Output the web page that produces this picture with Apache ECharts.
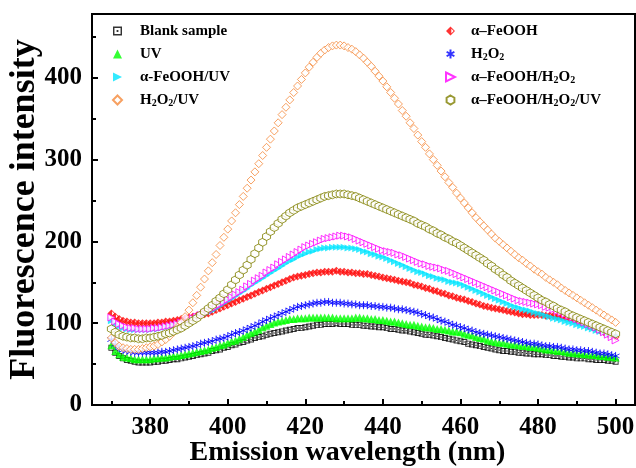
<!DOCTYPE html>
<html>
<head>
<meta charset="utf-8">
<script src="https://cdn.jsdelivr.net/npm/echarts@6/dist/echarts.min.js"></script>
<style>
  html, body { margin: 0; padding: 0; background: #fff; }
  #chart { width: 636px; height: 468px; }
</style>
</head>
<body>
<div id="chart"></div>
<script>
// emission wavelength (nm)
const wavelength = [
  370, 371, 372, 373, 374, 375, 376, 377, 378, 379,
  380, 381, 382, 383, 384, 385, 386, 387, 388, 389,
  390, 391, 392, 393, 394, 395, 396, 397, 398, 399,
  400, 401, 402, 403, 404, 405, 406, 407, 408, 409,
  410, 411, 412, 413, 414, 415, 416, 417, 418, 419,
  420, 421, 422, 423, 424, 425, 426, 427, 428, 429,
  430, 431, 432, 433, 434, 435, 436, 437, 438, 439,
  440, 441, 442, 443, 444, 445, 446, 447, 448, 449,
  450, 451, 452, 453, 454, 455, 456, 457, 458, 459,
  460, 461, 462, 463, 464, 465, 466, 467, 468, 469,
  470, 471, 472, 473, 474, 475, 476, 477, 478, 479,
  480, 481, 482, 483, 484, 485, 486, 487, 488, 489,
  490, 491, 492, 493, 494, 495, 496, 497, 498, 499,
  500
]

const blankSample = [
  70, 64, 60, 57, 55, 54, 53, 52, 52, 52,
  52, 53, 53, 54, 54, 55, 56, 56, 57, 58,
  59, 60, 61, 62, 63, 64, 66, 67, 68, 70,
  71, 73, 74, 76, 77, 79, 80, 82, 83, 84,
  86, 87, 88, 89, 90, 91, 92, 93, 94, 94,
  95, 96, 97, 98, 98, 99, 99, 99, 100, 99,
  99, 99, 98, 98, 98, 97, 97, 96, 96, 95,
  95, 94, 93, 93, 92, 91, 91, 90, 89, 88,
  87, 86, 86, 85, 84, 83, 82, 81, 80, 79,
  78, 77, 75, 74, 73, 72, 71, 70, 69, 68,
  67, 66, 66, 65, 65, 64, 64, 63, 63, 62,
  62, 62, 61, 61, 60, 60, 59, 59, 58, 58,
  57, 57, 57, 56, 56, 55, 55, 55, 54, 54,
  53
]

const feooh = [
  112, 108, 105, 103, 102, 101, 101, 100, 100, 100,
  100, 100, 101, 101, 102, 102, 103, 104, 105, 106,
  107, 108, 109, 110, 111, 112, 114, 116, 118, 120,
  122, 124, 126, 128, 130, 132, 134, 136, 138, 140,
  142, 144, 146, 148, 150, 152, 154, 156, 157, 158,
  159, 160, 161, 162, 162, 163, 163, 163, 164, 163,
  163, 162, 162, 161, 161, 160, 160, 159, 158, 157,
  156, 155, 154, 153, 152, 151, 150, 149, 147, 146,
  145, 143, 142, 140, 139, 137, 136, 134, 133, 131,
  130, 129, 127, 126, 124, 123, 121, 120, 119, 118,
  117, 116, 115, 114, 113, 112, 111, 111, 110, 110,
  110, 110, 109, 109, 109, 108, 108, 107, 106, 105,
  103, 101, 99, 97, 95, 93, 91, 89, 87, 85,
  83
]

const uv = [
  73, 66, 62, 59, 58, 57, 56, 56, 56, 56,
  56, 57, 57, 58, 58, 59, 60, 60, 61, 62,
  63, 64, 65, 66, 67, 68, 70, 71, 73, 74,
  76, 78, 79, 81, 83, 86, 88, 90, 92, 95,
  97, 99, 101, 102, 103, 104, 105, 105, 106, 106,
  106, 107, 107, 107, 107, 107, 107, 107, 106, 106,
  106, 106, 106, 107, 107, 106, 106, 105, 105, 104,
  104, 103, 102, 102, 101, 100, 99, 98, 98, 97,
  96, 95, 95, 94, 93, 93, 92, 91, 90, 90,
  89, 87, 86, 85, 83, 82, 81, 79, 78, 77,
  76, 76, 75, 74, 74, 73, 72, 72, 71, 71,
  70, 69, 68, 68, 67, 66, 66, 65, 64, 64,
  63, 63, 62, 62, 61, 61, 60, 60, 59, 59,
  58
]

const h2o2 = [
  80, 74, 70, 67, 66, 65, 64, 64, 64, 64,
  64, 64, 64, 65, 65, 66, 67, 68, 69, 70,
  71, 72, 73, 75, 76, 77, 78, 80, 81, 82,
  84, 86, 88, 89, 91, 93, 95, 97, 99, 102,
  104, 106, 108, 110, 112, 114, 116, 118, 120, 121,
  122, 123, 124, 125, 125, 126, 126, 125, 125, 125,
  124, 124, 123, 123, 122, 122, 122, 121, 121, 120,
  120, 119, 119, 118, 117, 117, 116, 115, 114, 113,
  111, 110, 108, 107, 105, 103, 102, 100, 98, 97,
  95, 94, 92, 91, 89, 88, 87, 86, 85, 84,
  83, 82, 81, 80, 79, 78, 77, 76, 75, 75,
  74, 73, 72, 72, 71, 71, 70, 69, 68, 68,
  67, 67, 66, 66, 65, 64, 63, 63, 62, 61,
  60
]

const feoohUv = [
  103, 99, 96, 94, 93, 92, 92, 92, 92, 92,
  92, 93, 93, 94, 95, 96, 97, 98, 100, 102,
  104, 105, 107, 109, 111, 113, 115, 118, 121, 124,
  127, 130, 133, 136, 139, 142, 146, 149, 152, 155,
  158, 161, 164, 167, 170, 173, 176, 178, 181, 183,
  185, 187, 188, 190, 191, 192, 192, 193, 193, 193,
  193, 192, 192, 191, 190, 188, 187, 185, 184, 182,
  181, 179, 177, 175, 173, 171, 169, 167, 165, 163,
  162, 160, 158, 157, 155, 154, 153, 151, 150, 149,
  148, 146, 144, 142, 140, 138, 136, 134, 132, 130,
  128, 126, 124, 122, 120, 119, 117, 116, 115, 113,
  112, 111, 109, 108, 106, 105, 104, 102, 101, 100,
  98, 97, 96, 94, 93, 91, 90, 89, 87, 86,
  85
]

const feoohH2o2 = [
  107, 102, 99, 97, 95, 94, 94, 93, 93, 93,
  93, 94, 94, 95, 96, 97, 98, 99, 101, 103,
  105, 106, 108, 110, 112, 114, 117, 120, 123, 126,
  129, 132, 135, 138, 141, 145, 148, 152, 155, 158,
  162, 165, 168, 172, 175, 178, 181, 184, 187, 190,
  193, 195, 197, 199, 201, 203, 204, 205, 206, 207,
  207, 206, 205, 203, 201, 199, 197, 195, 193, 191,
  189, 188, 187, 186, 184, 183, 181, 179, 177, 175,
  173, 172, 170, 169, 168, 167, 165, 164, 162, 160,
  158, 156, 154, 152, 150, 148, 146, 144, 142, 140,
  138, 136, 134, 132, 130, 128, 127, 126, 125, 124,
  123, 122, 120, 119, 117, 115, 113, 111, 109, 107,
  105, 103, 101, 99, 97, 95, 92, 89, 86, 83,
  79
]

const h2o2Uv = [
  82, 76, 72, 70, 69, 68, 68, 68, 69, 70,
  71, 72, 74, 77, 80, 84, 89, 95, 101, 108,
  116, 125, 134, 144, 154, 164, 174, 184, 195, 205,
  215, 225, 235, 245, 255, 265, 275, 285, 295, 305,
  315, 325, 335, 345, 355, 364, 373, 382, 390, 398,
  406, 413, 419, 425, 430, 434, 437, 439, 440, 440,
  439, 437, 435, 432, 428, 424, 419, 414, 408, 402,
  396, 389, 382, 375, 368, 360, 353, 345, 338, 330,
  322, 315, 307, 300, 293, 286, 279, 272, 266, 259,
  253, 247, 241, 235, 229, 224, 219, 214, 209, 204,
  200, 196, 192, 188, 184, 180, 177, 173, 170, 166,
  163, 160, 156, 153, 150, 147, 143, 140, 137, 134,
  131, 128, 125, 122, 119, 116, 113, 110, 107, 104,
  101
]

const feoohH2o2Uv = [
  93, 89, 86, 84, 83, 82, 82, 81, 81, 82,
  82, 83, 84, 85, 87, 88, 90, 92, 94, 97,
  100, 103, 106, 110, 114, 118, 122, 127, 131, 136,
  141, 147, 153, 159, 165, 171, 178, 185, 192, 199,
  206, 212, 217, 222, 227, 231, 235, 238, 241, 243,
  245, 247, 249, 251, 253, 255, 256, 257, 258, 258,
  258, 257, 256, 255, 253, 251, 249, 247, 245, 243,
  241, 239, 237, 235, 233, 231, 229, 227, 225, 222,
  220, 218, 215, 213, 210, 208, 205, 203, 200, 198,
  195, 192, 189, 186, 183, 180, 177, 173, 170, 166,
  163, 159, 156, 152, 149, 146, 143, 140, 137, 134,
  131, 128, 126, 123, 121, 118, 116, 114, 111, 109,
  107, 105, 103, 101, 99, 97, 95, 93, 91, 89,
  87
]

const xTicks = [380, 400, 420, 440, 460, 480, 500]
const xMinorTicks = [370, 390, 410, 430, 450, 470, 490]
const yTicks = [0, 100, 200, 300, 400]
const yMinorTicks = [50, 150, 250, 350, 450]

const leftLegend = ['Blank sample', 'UV', 'α-FeOOH/UV', 'H2O2/UV']
const rightLegend = ['α–FeOOH', 'H2O2', 'α–FeOOH/H2O2', 'α–FeOOH/H2O2/UV']

const font = 'Liberation Serif'

// 带中心点的方块、半填充菱形、星号、六边形
const squareDot = 'path://M0,0 L10,0 L10,10 L0,10 Z M1.6,1.6 L1.6,8.4 L8.4,8.4 L8.4,1.6 Z M4,4 L6,4 L6,6 L4,6 Z'
const halfDiamond = 'path://M5,0 L0,5 L5,10 Z M5,0 L10,5 L5,10 Z M5.9,2.4 L5.9,7.6 L8.5,5 Z'
const asterisk = 'path://M5,0 L5,10 M0.7,2.5 L9.3,7.5 M0.7,7.5 L9.3,2.5'
const rightTri = 'path://M0,0 L10,5 L0,10 Z'
const hexagon = 'path://M5,0 L9.33,2.5 L9.33,7.5 L5,10 L0.67,7.5 L0.67,2.5 Z'

function pairs (values) {
  return wavelength.map((w, i) => [w, values[i]])
}

function series (name, values, symbol, size, itemStyle) {
  return {
    name: name,
    type: 'scatter',
    data: pairs(values),
    symbol: symbol,
    symbolSize: size,
    itemStyle: itemStyle
  }
}

const labelStyle = {
  fontFamily: font,
  fontWeight: 'bold',
  fontSize: 25,
  color: '#000'
}

const legendText = {
  fontFamily: font,
  fontWeight: 'bold',
  fontSize: 15,
  color: '#000',
  lineHeight: 16,
  rich: {
    s: {
      fontFamily: font,
      fontWeight: 'bold',
      fontSize: 10,
      color: '#000',
      verticalAlign: 'bottom',
      lineHeight: 12
    }
  }
}

function legendLabel (name) {
  return name.replace(/2/g, '{s|2}')
}

const chart = echarts.init(document.getElementById('chart'))

chart.setOption({
  animation: false,
  backgroundColor: '#fff',
  grid: {
    left: 92,
    right: 1,
    top: 14,
    bottom: 63,
    outerBoundsMode: 'none',
    containLabel: false,
    show: true,
    borderColor: '#000',
    borderWidth: 2
  },
  legend: [{
    data: leftLegend,
    orient: 'vertical',
    left: 107,
    top: 18,
    itemWidth: 9,
    itemHeight: 9,
    itemGap: 7,
    formatter: legendLabel,
    textStyle: Object.assign({ padding: [0, 0, 0, 13] }, legendText)
  }, {
    data: rightLegend,
    orient: 'vertical',
    left: 440,
    top: 18,
    itemWidth: 9,
    itemHeight: 9,
    itemGap: 7,
    formatter: legendLabel,
    textStyle: Object.assign({ padding: [0, 0, 0, 11] }, legendText)
  }],
  xAxis: [{
    type: 'value',
    min: 365,
    max: 505,
    position: 'bottom',
    axisLine: { lineStyle: { color: '#000', width: 2 } },
    axisTick: { inside: true, length: 6, customValues: xTicks, lineStyle: { color: '#000', width: 2 } },
    axisLabel: Object.assign({ margin: 10, customValues: xTicks }, labelStyle),
    splitLine: { show: false },
    name: 'Emission wavelength (nm)',
    nameLocation: 'middle',
    nameGap: 34,
    nameMoveOverlap: false,
    nameTextStyle: { fontFamily: font, fontWeight: 'bold', fontSize: 28, color: '#000', padding: [0, 32, 0, 0] }
  }, {
    type: 'value',
    min: 365,
    max: 505,
    position: 'bottom',
    axisLine: { show: false },
    axisTick: { inside: true, length: 4, customValues: xMinorTicks, lineStyle: { color: '#000', width: 2 } },
    axisLabel: { show: false },
    splitLine: { show: false }
  }],
  yAxis: [{
    type: 'value',
    min: 0,
    max: 478,
    position: 'left',
    axisLine: { show: true, lineStyle: { color: '#000', width: 2 } },
    axisTick: { show: true, inside: true, length: 6, customValues: yTicks, lineStyle: { color: '#000', width: 2 } },
    axisLabel: Object.assign({ margin: 10, customValues: yTicks }, labelStyle),
    splitLine: { show: false },
    name: 'Fluorescence intensity',
    nameLocation: 'middle',
    nameGap: 49,
    nameMoveOverlap: false,
    nameTextStyle: { fontFamily: font, fontWeight: 'bold', fontSize: 36, color: '#000' }
  }, {
    type: 'value',
    min: 0,
    max: 478,
    position: 'left',
    axisLine: { show: false },
    axisTick: { show: true, inside: true, length: 4, customValues: yMinorTicks, lineStyle: { color: '#000', width: 2 } },
    axisLabel: { show: false },
    splitLine: { show: false }
  }],
  series: [
    series('Blank sample', blankSample, squareDot, 6, { color: '#000' }),
    series('α–FeOOH', feooh, halfDiamond, 8, { color: '#FF0000' }),
    series('UV', uv, 'triangle', 8, { color: '#00FF00' }),
    series('H2O2', h2o2, asterisk, 8, { color: '#0000FF', borderColor: '#0000FF', borderWidth: 1 }),
    series('α-FeOOH/UV', feoohUv, rightTri, 7, { color: '#00E5FF' }),
    series('α–FeOOH/H2O2', feoohH2o2, rightTri, 7, { color: '#fff', borderColor: '#FF00FF', borderWidth: 1 }),
    series('H2O2/UV', h2o2Uv, 'diamond', 8, { color: '#fff', borderColor: '#F5883A', borderWidth: 1 }),
    series('α–FeOOH/H2O2/UV', feoohH2o2Uv, hexagon, 8, { color: '#fff', borderColor: '#808000', borderWidth: 1 })
  ]
})
</script>
</body>
</html>
